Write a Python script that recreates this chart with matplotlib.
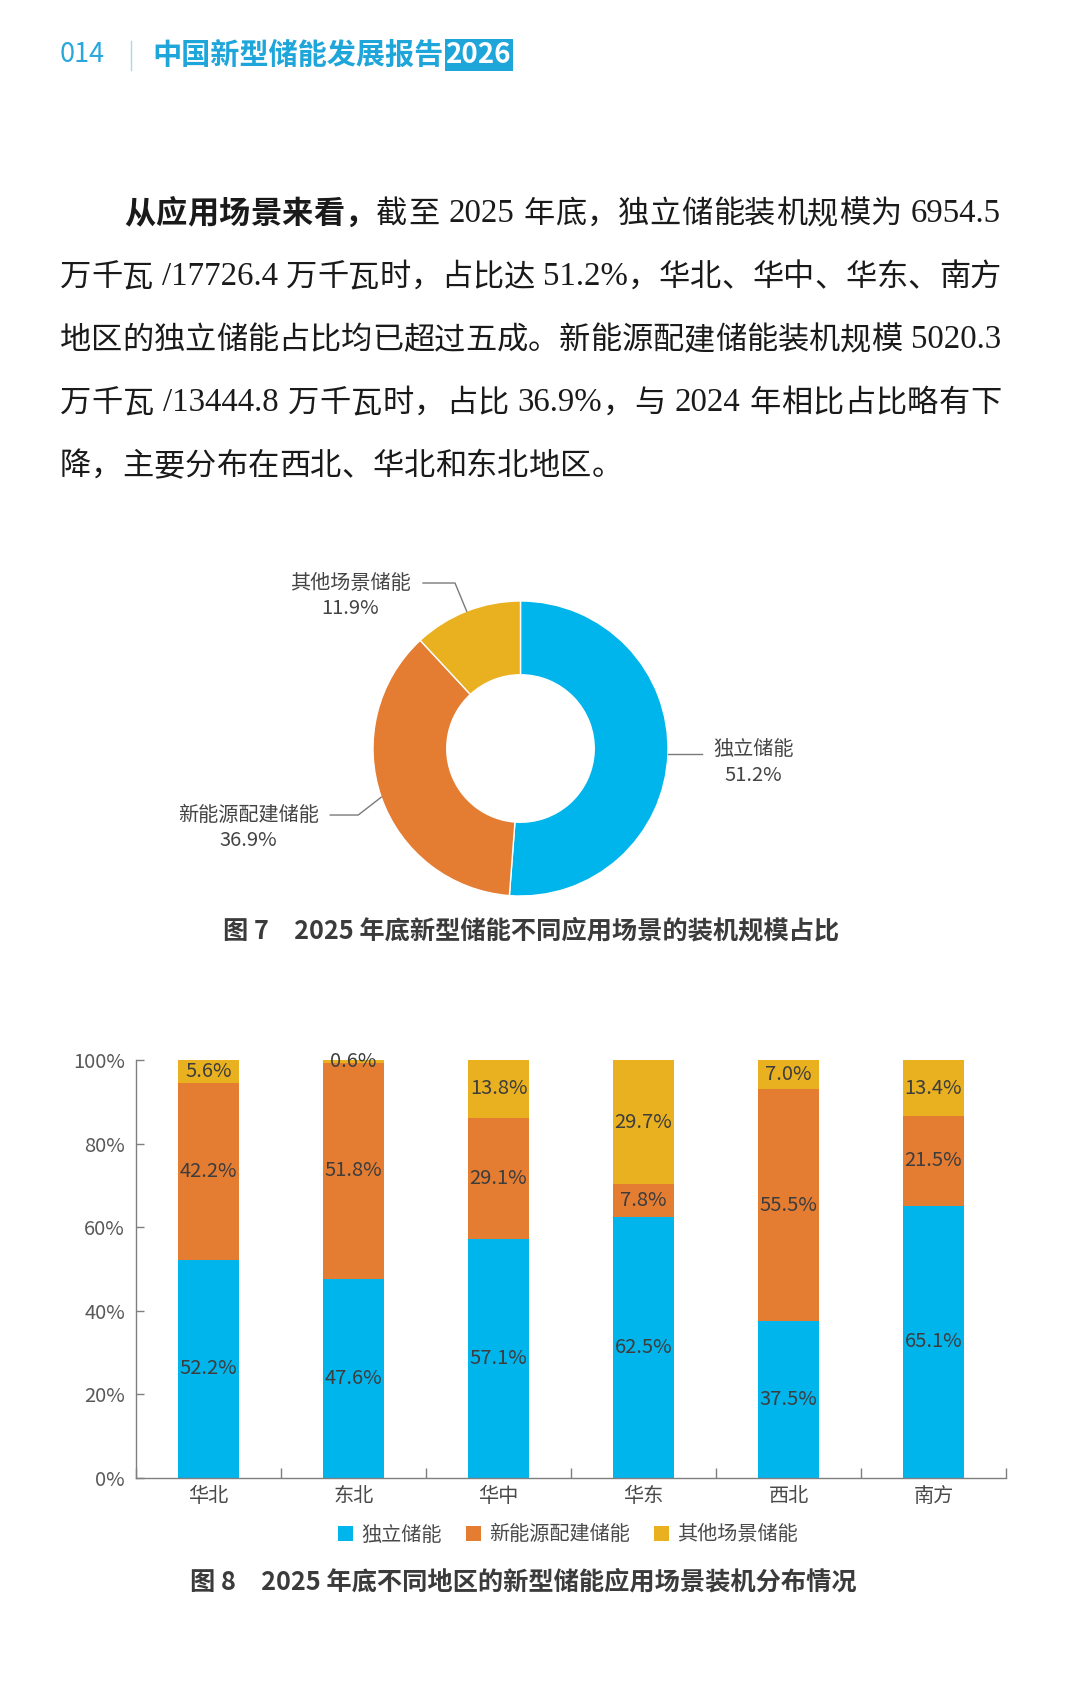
import matplotlib
matplotlib.use("Agg")
import matplotlib.pyplot as plt
import numpy as np
from matplotlib.patches import Patch
from matplotlib.ticker import FixedLocator, FuncFormatter

plt.rcParams['font.family'] = ['Noto Sans CJK SC', 'DejaVu Sans']

W, H = 1080, 1707

# 图7 数据
scene_names = ["独立储能", "新能源配建储能", "其他场景储能"]
scene_share = [51.2, 36.9, 11.9]

# 图8 数据
regions = ["华北", "东北", "华中", "华东", "西北", "南方"]
independent = [52.2, 47.6, 57.1, 62.5, 37.5, 65.1]
renewable = [42.2, 51.8, 29.1, 7.8, 55.5, 21.5]
other = [5.6, 0.6, 13.8, 29.7, 7.0, 13.4]

body_lines = [
    "从应用场景来看，截至 2025 年底，独立储能装机规模为 6954.5",
    "万千瓦 /17726.4 万千瓦时，占比达 51.2%，华北、华中、华东、南方",
    "地区的独立储能占比均已超过五成。新能源配建储能装机规模 5020.3",
    "万千瓦 /13444.8 万千瓦时，占比 36.9%，与 2024 年相比占比略有下",
    "降，主要分布在西北、华北和东北地区。",
]
n_bold = 8

colors = ["#00b4ec", "#e47c32", "#e9b11f"]
blue_title = "#1ea5da"

fig = plt.figure(figsize=(W / 100, H / 100), dpi=100)
fig.patch.set_facecolor("white")
renderer = fig.canvas.get_renderer()

# 背景层，像素坐标 (y 向下)
bg = fig.add_axes([0, 0, 1, 1])
bg.set_xlim(0, W)
bg.set_ylim(H, 0)
bg.axis("off")

# 页眉
bg.text(60, 55, "014", fontsize=19.5, color="#2aa7dc", va="center", ha="left")
bg.plot([131, 131], [41, 70], color="#a8d9ee", lw=1)
t = bg.text(152, 55, "中国新型储能发展报告", fontsize=21, fontweight="bold",
            color=blue_title, va="center", ha="left")
x_end = t.get_window_extent(renderer).x1
bg.text(x_end + 3, 55, "2026", fontsize=20, fontweight="bold", color="white",
        va="center", ha="left",
        bbox=dict(boxstyle="square,pad=0.06", fc=blue_title, ec="none"))


# 正文：两端对齐
def put_line(x0, x1, y, s, justify, nbold=0, size=22.5):
    tokens = []
    i = 0
    while i < len(s):
        c = s[i]
        if c == " ":
            tokens.append((None, False))
            i += 1
        elif ord(c) < 128:
            j = i
            while j < len(s) and ord(s[j]) < 128 and s[j] != " ":
                j += 1
            tokens.append((s[i:j], "latin"))
            i = j
        else:
            tokens.append((c, i < nbold))
            i += 1
    px = size / 0.72
    arts = []
    widths = []
    for tok, kind in tokens:
        if tok is None:
            arts.append(None)
            widths.append(0.28 * px)
            continue
        if kind == "latin":
            a = bg.text(0, y, tok, fontsize=size * 1.05, family="Liberation Serif",
                        color="#1a1a1a", va="center", ha="left")
        else:
            a = bg.text(0, y, tok, fontsize=size, color="#1a1a1a", va="center", ha="left",
                        fontweight="bold" if kind else "normal")
        arts.append(a)
        widths.append(a.get_window_extent(renderer).width)
    gap = 0.0
    if justify and len(tokens) > 1:
        gap = (x1 - x0 - sum(widths)) / (len(tokens) - 1)
    x = x0
    for a, w in zip(arts, widths):
        if a is not None:
            a.set_x(x)
        x += w + gap


line_y = [214, 277, 340, 403, 466]
for k, s in enumerate(body_lines):
    x_start = 124 if k == 0 else 60
    put_line(x_start, 1001, line_y[k], s, k < len(body_lines) - 1,
             nbold=n_bold if k == 0 else 0)

# 图7 圆环图
cx, cy, R = 520.5, 748.5, 147.5
S = 320
axp = fig.add_axes([(cx - S) / W, 1 - (cy + S) / H, 2 * S / W, 2 * S / H])
wedges, _ = axp.pie(scene_share, colors=colors, startangle=90, counterclock=False,
                    radius=1, wedgeprops=dict(width=0.5, edgecolor="white", linewidth=1))
lim = S / R
axp.set_xlim(-lim, lim)
axp.set_ylim(-lim, lim)
axp.set_aspect("equal")
axp.axis("off")

# 引导线拐点与终点，文字中心 (半径单位)
elbows = [None, (-1.10, -0.451), (-0.444, 1.122)]
line_ends = [1.23, -1.29, -0.661]
label_x = [1.58, -1.844, -1.156]
for k, w in enumerate(wedges):
    ang = np.deg2rad((w.theta1 + w.theta2) / 2)
    ax0, ay0 = np.cos(ang), np.sin(ang)
    if elbows[k] is None:
        xs = [ax0, line_ends[k]]
        ys = [ay0, ay0]
        ly = ay0 + 0.03
    else:
        ex, ey = elbows[k]
        xs = [ax0, ex, line_ends[k]]
        ys = [ay0, ey, ey]
        ly = ey
    axp.plot(xs, ys, color="#7a7a7a", lw=1, clip_on=False)
    axp.text(label_x[k], ly, scene_names[k], fontsize=14.5, color="#444444",
             ha="center", va="center")
    axp.text(label_x[k], ly - 0.172, f"{scene_share[k]:.1f}%", fontsize=14.5,
             color="#444444", ha="center", va="center")

bg.text(223, 931, "图 7\u30002025 年底新型储能不同应用场景的装机规模占比", fontsize=18.2,
        fontweight="bold", color="#3b3b3b", va="center", ha="left")

# 图8 堆积柱状图
ax = fig.add_axes([136 / W, 1 - 1478 / H, 870 / W, 418 / H])
x = np.arange(len(regions))
ind = np.array(independent)
ren = np.array(renewable)
oth = np.array(other)
bw = 0.414
ax.bar(x, ind, width=bw, color=colors[0], label=scene_names[0])
ax.bar(x, ren, width=bw, bottom=ind, color=colors[1], label=scene_names[1])
ax.bar(x, oth, width=bw, bottom=ind + ren, color=colors[2], label=scene_names[2])

for vals, base in [(ind, np.zeros(len(x))), (ren, ind), (oth, ind + ren)]:
    for xi, v, b in zip(x, vals, base):
        ax.text(xi, b + v / 2, f"{v:.1f}%", ha="center", va="center",
                fontsize=14.5, color="#3d3d3d", clip_on=False)

ax.set_xlim(-0.5, len(regions) - 0.5)
ax.set_ylim(0, 100)
ax.set_yticks(range(0, 101, 20))
ax.yaxis.set_major_formatter(FuncFormatter(lambda v, p: f"{v:.0f}%"))
ax.xaxis.set_major_locator(FixedLocator(np.arange(-0.5, len(regions), 1.0)))
ax.xaxis.set_major_formatter(FuncFormatter(lambda v, p: ""))
ax.xaxis.set_minor_locator(FixedLocator(x))
ax.set_xticklabels(regions, minor=True)
ax.tick_params(axis="x", which="major", direction="in", length=7, color="#7f7f7f", width=1)
ax.tick_params(axis="x", which="minor", length=0, pad=6, labelsize=14.5, labelcolor="#4a4a4a")
ax.tick_params(axis="y", direction="in", length=6, color="#7f7f7f", width=1, pad=8,
               labelsize=14.5, labelcolor="#595959")
for side in ["top", "right"]:
    ax.spines[side].set_visible(False)
for side in ["left", "bottom"]:
    ax.spines[side].set_color("#7f7f7f")
    ax.spines[side].set_linewidth(1)

handles = [Patch(facecolor=c, edgecolor="none") for c in colors]
fig.legend(handles, scene_names, loc="center", bbox_to_anchor=(568 / W, 1 - 1535 / H),
           ncol=3, frameon=False, fontsize=14.5, handlelength=0.75, handleheight=0.75,
           handletextpad=0.4, columnspacing=1.2, labelcolor="#4a4a4a")

bg.text(190, 1582, "图 8\u30002025 年底不同地区的新型储能应用场景装机分布情况", fontsize=18.2,
        fontweight="bold", color="#3b3b3b", va="center", ha="left")

fig.savefig("out.png", dpi=100, facecolor="white")
